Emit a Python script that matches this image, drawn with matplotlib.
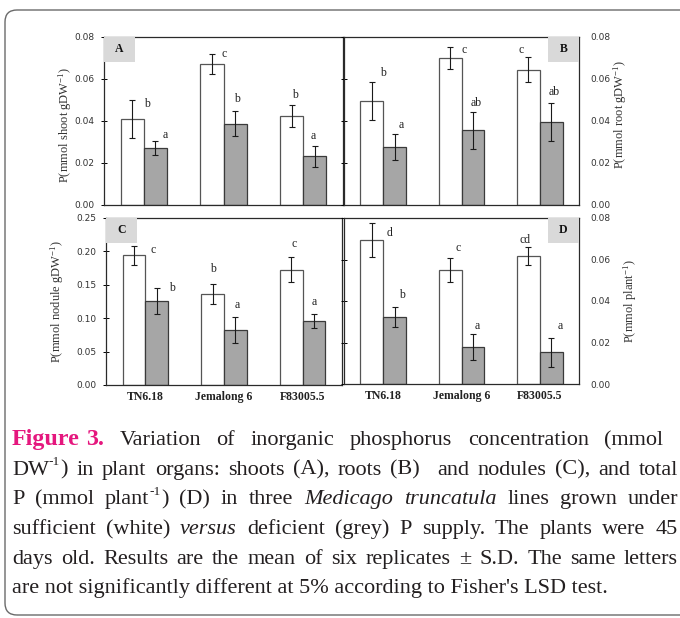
import matplotlib
matplotlib.use("Agg")
import matplotlib.pyplot as plt
import numpy as np
from matplotlib.patches import FancyBboxPatch, Rectangle

plt.rcParams['mathtext.fontset'] = 'custom'
plt.rcParams['mathtext.rm'] = 'Liberation Serif'
plt.rcParams['mathtext.it'] = 'Liberation Serif:italic'
plt.rcParams['mathtext.bf'] = 'Liberation Serif:bold'

# ---------------- data ----------------
cultivars = ["TN6.18", "Jemalong 6", "F83005.5"]

shoot_suff = [0.041, 0.067, 0.0425]
shoot_suff_sd = [0.009, 0.0048, 0.0052]
shoot_def = [0.027, 0.0387, 0.0231]
shoot_def_sd = [0.0033, 0.006, 0.0052]
shoot_let_suff = ["b", "c", "b"]
shoot_let_def = ["a", "b", "a"]

root_suff = [0.0497, 0.0699, 0.0645]
root_suff_sd = [0.009, 0.0052, 0.006]
root_def = [0.0276, 0.0356, 0.0394]
root_def_sd = [0.006, 0.0088, 0.009]
root_let_suff = ["b", "c", "c"]
root_let_def = ["a", "ab", "ab"]

nod_suff = [0.194, 0.1365, 0.1725]
nod_suff_sd = [0.014, 0.015, 0.019]
nod_def = [0.1255, 0.0825, 0.096]
nod_def_sd = [0.019, 0.019, 0.0105]
nod_let_suff = ["c", "b", "c"]
nod_let_def = ["b", "a", "a"]

plant_suff = [0.0694, 0.0549, 0.0618]
plant_suff_sd = [0.008, 0.0056, 0.0043]
plant_def = [0.0323, 0.0179, 0.0154]
plant_def_sd = [0.005, 0.0062, 0.007]
plant_let_suff = ["d", "c", "cd"]
plant_let_def = ["b", "a", "a"]

# letter offsets (pixels) relative to top of error bar: (dx, dy)
off_A_suff = [(15, -4), (12, 0), (3, 10)]
off_A_def = [(10, 6), (2, 12), (-1, 10)]
off_B_suff = [(11, 9), (14, -3), (-7, 7)]
off_B_def = [(7, 9), (3, 9), (3, 11)]
off_C_suff = [(19, -4), (0, 15), (3, 13)]
off_C_def = [(15, 0), (2, 12), (0, 12)]
off_D_suff = [(18, -10), (8, 10), (-3, 7)]
off_D_def = [(7, 12), (4, 8), (9, 12)]

W, H = 680, 618
fig = plt.figure(figsize=(W / 100, H / 100), dpi=100)
fig.patch.set_facecolor("white")

# rounded frame
frame = FancyBboxPatch((5, 3), 720, 605, boxstyle="round,pad=0,rounding_size=12",
                       transform=None, facecolor="none", edgecolor="#6a6a6a", lw=1.0)
fig.add_artist(frame)


def ax_at(l, r, t, b):
    return fig.add_axes([l / W, 1 - b / H, (r - l) / W, (b - t) / H])


axA = ax_at(104, 343, 37, 205)
axB = ax_at(344, 579, 37, 205)
axC = ax_at(106, 342, 218, 385)
axD = ax_at(344, 579, 218, 384)

bw = 0.29
x = np.arange(len(cultivars))
tick_font = dict(family="DejaVu Sans")


def panel(ax, suff, suff_sd, deff, deff_sd, ls, ld, os_, od, ylim, yticks, label,
          label_right, ylab_right, xlabels):
    ekw = dict(ecolor="#1a1a1a", elinewidth=0.8, capsize=2.3, capthick=0.8)
    ax.bar(x - bw / 2, suff, bw, color="white", edgecolor="#555555", lw=0.9,
           yerr=suff_sd, error_kw=ekw, zorder=2)
    ax.bar(x + bw / 2, deff, bw, color="#a6a6a6", edgecolor="#3a3a3a", lw=0.9,
           yerr=deff_sd, error_kw=ekw, zorder=2)
    for i in range(len(x)):
        ax.annotate(ls[i], (x[i] - bw / 2, suff[i] + suff_sd[i]), xytext=os_[i],
                    textcoords="offset pixels", ha="center", va="center",
                    family="Liberation Serif", fontsize=8.5, color="#222222")
        ax.annotate(ld[i], (x[i] + bw / 2, deff[i] + deff_sd[i]), xytext=od[i],
                    textcoords="offset pixels", ha="center", va="center",
                    family="Liberation Serif", fontsize=8.5, color="#222222")
    ax.set_xlim(-0.5, 2.5)
    ax.set_ylim(*ylim)
    ax.set_yticks(yticks)
    ax.set_yticklabels(["%.2f" % v for v in yticks], **tick_font)
    ax.tick_params(axis="y", direction="inout", length=4, width=0.7,
                   labelsize=6.5, labelcolor="#333333", pad=5)
    if ylab_right:
        ax.tick_params(axis="y", left=True, right=False, labelleft=False,
                       labelright=True, pad=6)
    ax.set_xticks(x)
    if xlabels:
        ax.set_xticklabels(cultivars, family="Liberation Serif", weight="bold",
                           fontsize=8.5, color="#222222")
    else:
        ax.set_xticklabels([])
    ax.tick_params(axis="x", length=0, pad=4)
    for s in ax.spines.values():
        s.set_color("#2a2a2a")
        s.set_linewidth(0.9)
    bwid, bhei = 31, 25
    pw = ax.get_position().width * W
    ph = ax.get_position().height * H
    fw, fh = bwid / pw, bhei / ph
    x0 = 1 - fw if label_right else 0.0
    ax.add_patch(Rectangle((x0, 1 - fh), fw, fh, transform=ax.transAxes,
                           facecolor="#d9d9d9", edgecolor="none", zorder=3))
    ax.text(x0 + fw / 2, 1 - fh / 2 + 0.005, label, transform=ax.transAxes,
            ha="center", va="center", family="Liberation Serif", weight="bold",
            fontsize=8.5, color="#111111", zorder=4)


panel(axA, shoot_suff, shoot_suff_sd, shoot_def, shoot_def_sd, shoot_let_suff,
      shoot_let_def, off_A_suff, off_A_def, (0, 0.08), [0, 0.02, 0.04, 0.06, 0.08],
      "A", False, False, False)
panel(axB, root_suff, root_suff_sd, root_def, root_def_sd, root_let_suff,
      root_let_def, off_B_suff, off_B_def, (0, 0.08), [0, 0.02, 0.04, 0.06, 0.08],
      "B", True, True, False)
panel(axC, nod_suff, nod_suff_sd, nod_def, nod_def_sd, nod_let_suff,
      nod_let_def, off_C_suff, off_C_def, (0, 0.25),
      [0, 0.05, 0.10, 0.15, 0.20, 0.25], "C", False, False, True)
panel(axD, plant_suff, plant_suff_sd, plant_def, plant_def_sd, plant_let_suff,
      plant_let_def, off_D_suff, off_D_def, (0, 0.08), [0, 0.02, 0.04, 0.06, 0.08],
      "D", True, True, True)

ylab_kw = dict(rotation=90, ha="center", va="center", family="Liberation Serif",
               fontsize=9, color="#333333")
fig.text(65 / W, 1 - 125 / H, r"P(mmol shoot gDW$^{-1}$)", **ylab_kw)
fig.text(620 / W, 1 - 115 / H, r"P(mmol root gDW$^{-1}$)", **ylab_kw)
fig.text(57 / W, 1 - 302 / H, r"P(mmol nodule gDW$^{-1}$)", **ylab_kw)
fig.text(630 / W, 1 - 301 / H, r"P(mmol plant$^{-1}$)", **ylab_kw)

# ---------------- caption ----------------
caption = [
    [("Figure 3.", "b"), (" Variation of inorganic phosphorus concentration (mmol g", "n")],
    [("DW", "n"), ("-1", "s"), (") in plant organs: shoots (A), roots (B)  and nodules (C), and total", "n")],
    [("P (mmol plant", "n"), ("-1", "s"), (") (D) in three ", "n"), ("Medicago truncatula", "i"),
     (" lines grown under", "n")],
    [("sufficient (white) ", "n"), ("versus", "i"), (" deficient (grey) P supply. The plants were 45", "n")],
    [("days old. Results are the mean of six replicates \u00b1 S.D. The same letters", "n")],
    [("are not significantly different at 5% according to Fisher's LSD test.", "n")],
]

fig.canvas.draw()
renderer = fig.canvas.get_renderer()
txt_color = "#231f20"
magenta = "#e5177e"


def style_kw(st, fs):
    kw = dict(family="Liberation Serif", fontsize=fs, color=txt_color)
    if st == "b":
        kw.update(weight="bold", color=magenta, fontsize=fs * 1.08)
    elif st == "i":
        kw.update(style="italic")
    elif st == "s":
        kw.update(fontsize=fs * 0.6)
    return kw


def measure(s, kw):
    t = fig.text(0, 0, s, **kw)
    w = t.get_window_extent(renderer).width
    t.remove()
    return w


def space_w(kw):
    return measure("x x", kw) - measure("xx", kw)


def tokens(line):
    items = []
    for text, st in line:
        parts = text.split(" ")
        for j, p in enumerate(parts):
            if j > 0:
                items.append(("sp", " ", st))
            if p:
                items.append(("w", p, st))
    return items


def natural(line, fs):
    tot = 0
    for kind, s, st in tokens(line):
        kw = style_kw(st, fs)
        tot += space_w(kw) if kind == "sp" else measure(s, kw)
    return tot


x_left = 12
targets = [690, 678, 678, 678, 678, None]
fs0 = 14.0
fs = min(fs0 * (targets[i] - x_left) / natural(caption[i], fs0) for i in range(5))
fs = min(fs, 16.0)

base0, step = 445, 29.7
for li, line in enumerate(caption):
    base = base0 + step * li
    if targets[li] is None:
        for text, st in line:
            fig.text(x_left / W, 1 - base / H, text, ha="left", va="baseline",
                     **style_kw(st, fs))
        continue
    items = tokens(line)
    nat = natural(line, fs)
    sp_idx = [k for k, it in enumerate(items) if it[0] == "sp" and it[2] != "b"]
    extra = 0.0
    if sp_idx:
        extra = max(0.0, (targets[li] - x_left - nat) / len(sp_idx))
    cx = x_left
    for k, (kind, s, st) in enumerate(items):
        kw = style_kw(st, fs)
        if kind == "sp":
            cx += space_w(kw) + (extra if k in sp_idx else 0.0)
            continue
        yb = base - (fs * 100 / 72 * 0.42 if st == "s" else 0)
        fig.text(cx / W, 1 - yb / H, s, ha="left", va="baseline", **kw)
        cx += measure(s, kw)

fig.savefig("out.png", dpi=100)
